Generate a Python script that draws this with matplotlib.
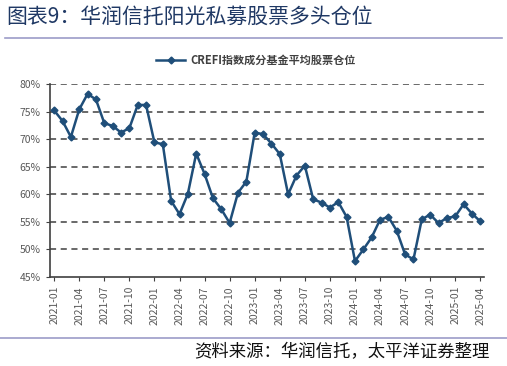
import numpy as np
import pandas as pd
import matplotlib
matplotlib.use("Agg")
import matplotlib.pyplot as plt
from matplotlib.ticker import PercentFormatter
from matplotlib.lines import Line2D

plt.rcParams['font.family'] = ['Noto Sans CJK SC', 'DejaVu Sans']

# 月份 2021-01 .. 2025-04
months = pd.date_range("2021-01-01", "2025-04-01", freq="MS").strftime("%Y-%m").tolist()
position = [75.2, 73.3, 70.4, 75.4, 78.2, 77.2, 72.9, 72.4, 71.2, 72.0, 76.2, 76.2,
            69.4, 69.1, 58.8, 56.4, 60.1, 67.4, 63.7, 59.3, 57.3, 54.8, 60.3, 62.3,
            71.2, 70.9, 69.2, 67.3, 60.0, 63.4, 65.2, 59.1, 58.5, 57.6, 58.6, 55.9,
            47.9, 50.0, 52.2, 55.4, 55.9, 53.4, 49.1, 48.2, 55.5, 56.3, 54.8, 55.7,
            56.0, 58.2, 56.5, 55.1]
yticks = [45, 50, 55, 60, 65, 70, 75, 80]
series_name = "CREFI指数成分基金平均股票仓位"

fig = plt.figure(figsize=(5.07, 3.66), dpi=100)
ax = fig.add_axes([0.0986, 0.243, 0.857, 0.5275])

x = np.arange(len(months))
line_color = "#1F4E79"
ax.plot(x, position, color=line_color, lw=1.8, marker="D", ms=3.5,
        markerfacecolor=line_color, markeredgecolor=line_color, zorder=3)

ax.set_ylim(45, 80)
ax.set_xlim(-0.5, 51.5)
ax.set_yticks(yticks)
ax.yaxis.set_major_formatter(PercentFormatter(decimals=0))
for yv in yticks[1:]:
    ax.axhline(yv, color="#404040", lw=1.1, ls=(0, (4, 3)), zorder=1)

ax.set_xticks(x[::3])
ax.set_xticklabels(months[::3], rotation=90)
ax.tick_params(axis="both", labelsize=7.5, colors="#404040", labelcolor="#595959",
               length=3, width=0.8, direction="out")
for s in ["top", "right"]:
    ax.spines[s].set_visible(False)
ax.spines["left"].set_color("#404040")
ax.spines["bottom"].set_color("#404040")
ax.spines["left"].set_linewidth(1.2)
ax.spines["bottom"].set_linewidth(1.2)

# legend
h = Line2D([], [], color=line_color, lw=1.8, marker="D", ms=3.5)
fig.legend([h], [series_name], loc="center", bbox_to_anchor=(0.505, 0.836),
           frameon=False, prop={"size": 8, "weight": "bold"}, labelcolor="#404040",
           handlelength=2.6, handletextpad=0.5)

# title and frame lines
fig.text(0.012, 0.955, "图表9：华润信托阳光私募股票多头仓位", fontsize=15,
         color="#1F3864", va="center", ha="left")
fig.add_artist(Line2D([0.01, 0.99], [0.897, 0.897], color="#9C9CC8", lw=1.2))
fig.add_artist(Line2D([0.0, 1.0], [0.077, 0.077], color="#9C9CC8", lw=1.2))
fig.text(0.965, 0.038, "资料来源：华润信托，太平洋证券整理", fontsize=12.5,
         color="#111111", va="center", ha="right", style="italic")

fig.savefig("out.png", dpi=100)
